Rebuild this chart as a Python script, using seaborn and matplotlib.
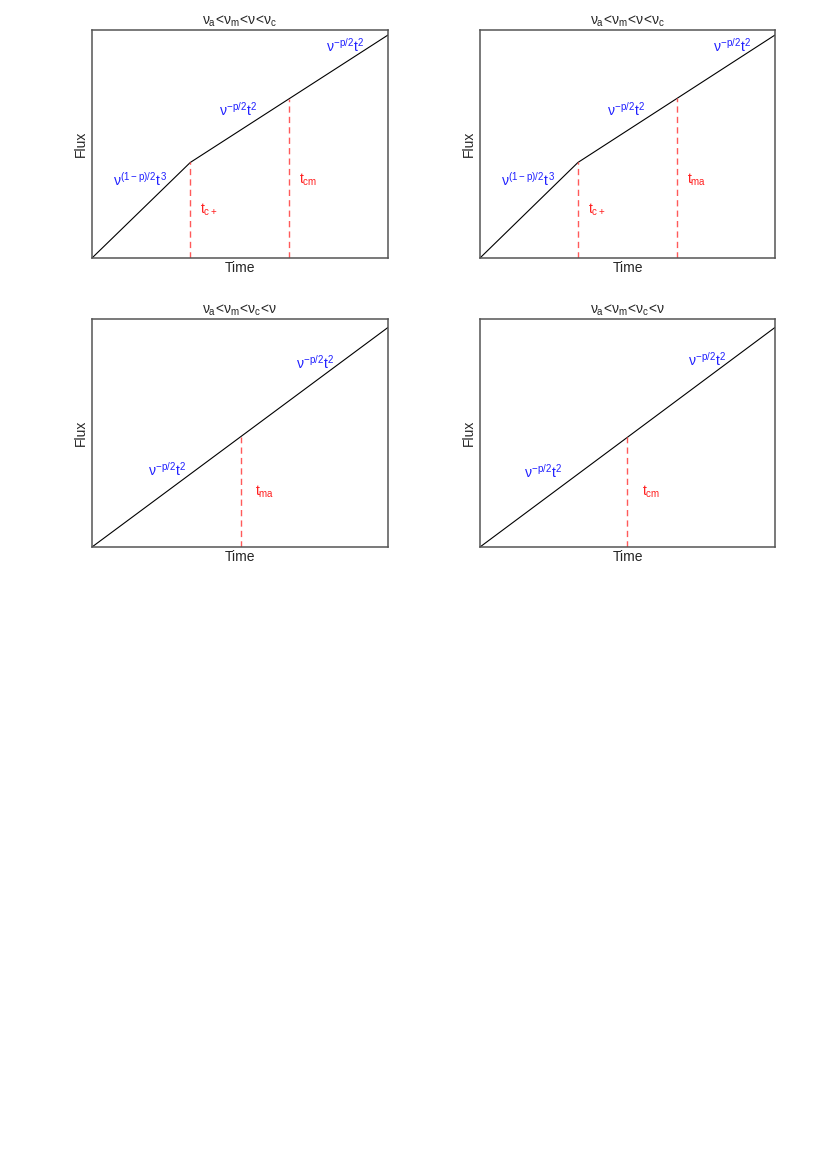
import numpy as np
import pandas as pd
import matplotlib
matplotlib.use("Agg")
import matplotlib.pyplot as plt
import seaborn as sns

sns.set_theme(style="white")
plt.rcParams['font.family'] = ['Liberation Sans', 'DejaVu Sans']
plt.rcParams['mathtext.fontset'] = 'custom'
plt.rcParams['mathtext.rm'] = 'Liberation Sans'
plt.rcParams['mathtext.it'] = 'Liberation Sans'
plt.rcParams['mathtext.bf'] = 'Liberation Sans:bold'

# ---- data (axis-fraction units) ----
titles = [r"$\nu_a\!<\!\nu_m\!<\!\nu\!<\!\nu_c$", r"$\nu_a\!<\!\nu_m\!<\!\nu\!<\!\nu_c$",
          r"$\nu_a\!<\!\nu_m\!<\!\nu_c\!<\!\nu$", r"$\nu_a\!<\!\nu_m\!<\!\nu_c\!<\!\nu$"]

time_broken = [0.0, 0.332, 1.0]
flux_broken = [0.0, 0.419, 0.978]
time_single = [0.0, 1.0]
flux_single = [0.0, 0.963]

dash_x = [[0.332, 0.666], [0.332, 0.669], [0.502], [0.499]]
dash_lab = [[r"$t_{c+}$", r"$t_{cm}$"], [r"$t_{c+}$", r"$t_{ma}$"], [r"$t_{ma}$"], [r"$t_{cm}$"]]
dash_lab_xy = [[(0.365, 0.21), (0.70, 0.343)], [(0.365, 0.21), (0.70, 0.343)],
               [(0.55, 0.24)], [(0.55, 0.24)]]

seg_lab = [[r"$\nu^{(1-p)/2}t^{3}$", r"$\nu^{-p/2}t^{2}$", r"$\nu^{-p/2}t^{2}$"],
           [r"$\nu^{(1-p)/2}t^{3}$", r"$\nu^{-p/2}t^{2}$", r"$\nu^{-p/2}t^{2}$"],
           [r"$\nu^{-p/2}t^{2}$", r"$\nu^{-p/2}t^{2}$"],
           [r"$\nu^{-p/2}t^{2}$", r"$\nu^{-p/2}t^{2}$"]]
seg_lab_xy = [[(0.07, 0.345), (0.43, 0.65), (0.79, 0.93)],
              [(0.07, 0.345), (0.43, 0.65), (0.79, 0.93)],
              [(0.19, 0.34), (0.69, 0.81)],
              [(0.15, 0.33), (0.705, 0.82)]]

# ---- figure ----
fig = plt.figure(figsize=(8.3, 11.75), dpi=100)
W, H = 830, 1175
boxes = [(92, 30, 388, 258), (480, 30, 775, 258), (92, 319, 388, 547), (480, 319, 775, 547)]

for i, (l, t, r, b) in enumerate(boxes):
    ax = fig.add_axes([l / W, 1 - b / H, (r - l) / W, (b - t) / H])
    if i < 2:
        xs, ys = time_broken, flux_broken
    else:
        xs, ys = time_single, flux_single
    df = pd.DataFrame({"Time": xs, "Flux": ys})
    sns.lineplot(data=df, x="Time", y="Flux", ax=ax, color="black", lw=0.8)
    for xd in dash_x[i]:
        top = np.interp(xd, xs, ys)
        ax.plot([xd, xd], [0, top], color="#ff5a5a", lw=1.0, dashes=(4.5, 3))
    for lab, (x, y) in zip(dash_lab[i], dash_lab_xy[i]):
        ax.text(x, y, lab, color="#ff2020", fontsize=10, ha="left", va="center")
    for lab, (x, y) in zip(seg_lab[i], seg_lab_xy[i]):
        ax.text(x, y, lab, color="#2020ff", fontsize=10, ha="left", va="center")
    ax.set_xlim(0, 1)
    ax.set_ylim(0, 1)
    ax.set_xticks([])
    ax.set_yticks([])
    ax.set_xlabel("Time", fontsize=10, labelpad=2)
    ax.set_ylabel("Flux", fontsize=10, labelpad=3)
    ax.set_title(titles[i], fontsize=10, pad=4)
    for s in ax.spines.values():
        s.set_color("#555555")
        s.set_linewidth(1.1)

fig.savefig("out.png", dpi=100)
